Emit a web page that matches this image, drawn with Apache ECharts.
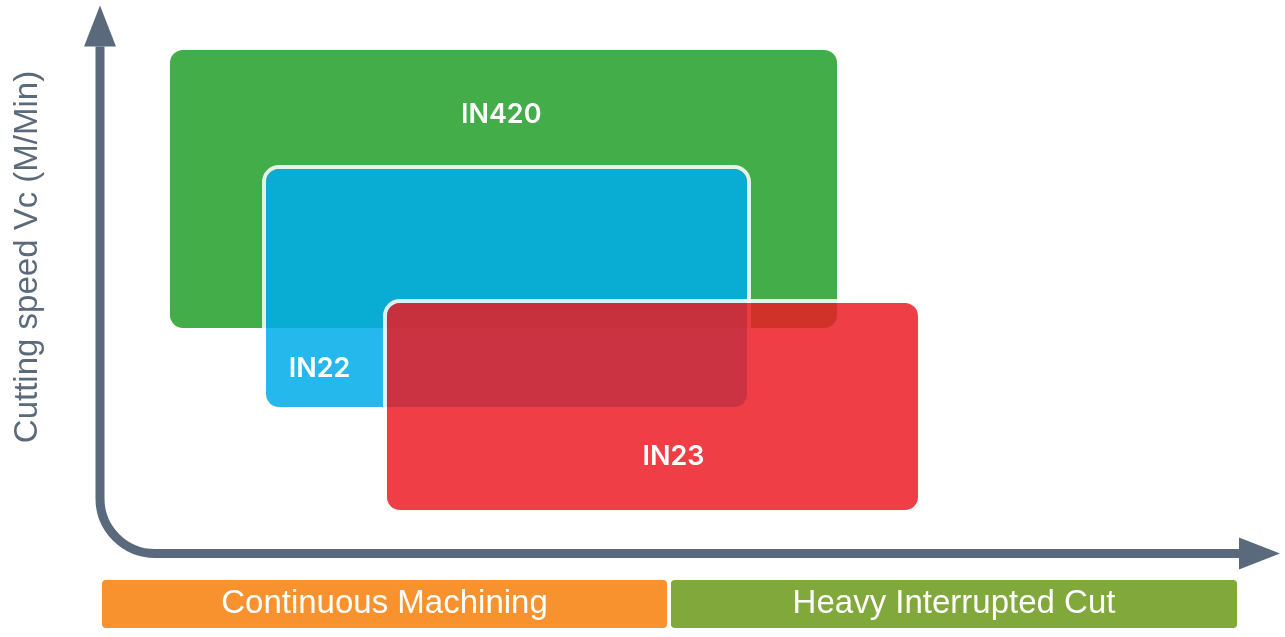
<!DOCTYPE html>
<html>
<head>
<meta charset="utf-8">
<script src="https://cdn.jsdelivr.net/npm/echarts@6/dist/echarts.min.js"></script>
<style>
  html, body { margin: 0; padding: 0; background: #fff; }
  #chart { width: 1285px; height: 637px; }
</style>
</head>
<body>
<div id="chart"></div>
<script>
// grade ranges: x = machining condition (0-100), y = cutting speed (0-100), schematic values
var grades = ["IN420", "IN22", "IN23"];
var xFrom = [5.93, 14.07, 24.32];
var xTo = [62.46, 54.83, 69.32];
var vLow = [40.79, 26.53, 7.94];
var vHigh = [90.97, 69.49, 45.31];
var labelX = [34.0, 18.6, 48.6];
var labelY = [79.2, 33.5, 17.6];

// machining condition bands under the x axis
var cuts = ["Continuous Machining", "Heavy Interrupted Cut"];
var cutFrom = [0.17, 48.39];
var cutTo = [48.05, 96.36];

var gradeColors = ["#43ad4a", "rgba(0,172,234,0.86)", "rgba(236,25,33,0.84)"];
var cutColors = ["#f7922e", "#80a83a"];
var axisColor = "#5a6a7c";
var font = "'Liberation Sans', Arial, Helvetica, sans-serif";

var chart = echarts.init(document.getElementById("chart"));

var gradeData = grades.map(function (g, i) {
  return [xFrom[i], xTo[i], vLow[i], vHigh[i], labelX[i], labelY[i], i];
});
var cutData = cuts.map(function (c, i) {
  return [cutFrom[i], cutTo[i], i];
});

chart.setOption({
  animation: false,
  grid: [
    { left: 100, right: 5, top: 0, bottom: 83 },
    { left: 100, right: 5, top: 580, height: 48 }
  ],
  xAxis: [
    { gridIndex: 0, type: "value", min: 0, max: 100, show: false },
    { gridIndex: 1, type: "value", min: 0, max: 100, show: false }
  ],
  yAxis: [
    { gridIndex: 0, type: "value", min: 0, max: 100, show: false },
    { gridIndex: 1, type: "value", min: 0, max: 1, show: false }
  ],
  graphic: [
    {
      type: "text",
      x: 28,
      y: 257,
      rotation: Math.PI / 2,
      style: {
        text: "Cutting speed Vc (M/Min)",
        fill: "#5b6a7a",
        font: "33px " + font,
        align: "center",
        verticalAlign: "middle"
      }
    }
  ],
  series: [
    {
      // 坐标轴（带圆角和箭头）
      type: "custom",
      xAxisIndex: 0,
      yAxisIndex: 0,
      clip: false,
      silent: true,
      data: [[0, 0]],
      renderItem: function (params, api) {
        var o = api.coord([0, 0]);
        var top = api.coord([0, 99]);
        var right = api.coord([100, 0]);
        var ox = o[0], oy = o[1] - 0.5;
        var r = 55, k = 0.552 * r;
        var len = 41, half = 16;
        var path = "M" + ox + "," + (top[1] + len) +
          " L" + ox + "," + (oy - r) +
          " C" + ox + "," + (oy - r + k) + " " + (ox + r - k) + "," + oy + " " + (ox + r) + "," + oy +
          " L" + (right[0] - len + 1) + "," + oy;
        return {
          type: "group",
          children: [
            {
              type: "path",
              shape: { pathData: path },
              style: { stroke: axisColor, lineWidth: 9, fill: null }
            },
            {
              type: "polygon",
              shape: { points: [[ox, top[1]], [ox - half, top[1] + len], [ox + half, top[1] + len]] },
              style: { fill: axisColor }
            },
            {
              type: "polygon",
              shape: { points: [[right[0], oy], [right[0] - len, oy - half], [right[0] - len, oy + half]] },
              style: { fill: axisColor }
            }
          ]
        };
      }
    },
    {
      // 牌号范围
      type: "custom",
      xAxisIndex: 0,
      yAxisIndex: 0,
      clip: false,
      data: gradeData,
      renderItem: function (params, api) {
        var i = api.value(6);
        var p1 = api.coord([api.value(0), api.value(3)]);
        var p2 = api.coord([api.value(1), api.value(2)]);
        var lp = api.coord([api.value(4), api.value(5)]);
        var w = p2[0] - p1[0], h = p2[1] - p1[1];
        var children = [];
        if (i > 0) {
          // 外侧白边
          children.push({
            type: "rect",
            shape: { x: p1[0] - 2, y: p1[1] - 2, width: w + 4, height: h + 4, r: 15 },
            style: { fill: null, stroke: "rgba(255,255,255,0.85)", lineWidth: 4 }
          });
        }
        children.push({
          type: "rect",
          shape: { x: p1[0], y: p1[1], width: w, height: h, r: 13 },
          style: { fill: gradeColors[i] }
        });
        children.push({
          type: "text",
          x: lp[0],
          y: lp[1],
          style: {
            text: grades[i],
            fill: "#fff",
            font: "600 27px Inter, " + font,
            align: "center",
            verticalAlign: "middle"
          }
        });
        return { type: "group", children: children };
      }
    },
    {
      // 加工条件
      type: "custom",
      xAxisIndex: 1,
      yAxisIndex: 1,
      clip: false,
      data: cutData,
      renderItem: function (params, api) {
        var i = api.value(2);
        var p1 = api.coord([api.value(0), 1]);
        var p2 = api.coord([api.value(1), 0]);
        return {
          type: "group",
          children: [
            {
              type: "rect",
              shape: { x: p1[0], y: p1[1], width: p2[0] - p1[0], height: p2[1] - p1[1], r: 4 },
              style: { fill: cutColors[i] }
            },
            {
              type: "text",
              x: (p1[0] + p2[0]) / 2,
              y: (p1[1] + p2[1]) / 2,
              style: {
                text: cuts[i],
                fill: "#fff",
                font: "33px " + font,
                align: "center",
                verticalAlign: "middle"
              }
            }
          ]
        };
      }
    }
  ]
});
</script>
</body>
</html>
